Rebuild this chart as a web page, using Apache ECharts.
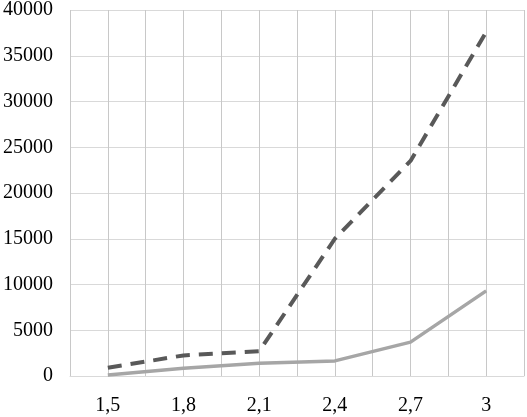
<!DOCTYPE html>
<html>
<head>
<meta charset="utf-8">
<script src="https://cdn.jsdelivr.net/npm/echarts@6/dist/echarts.min.js"></script>
<style>
  html, body { margin: 0; padding: 0; background: #fff; }
  #chart { width: 527px; height: 417px; }
</style>
</head>
<body>
<div id="chart"></div>
<script>
// x positions and the two series
const xValues = [1.5, 1.8, 2.1, 2.4, 2.7, 3]
const dashedValues = [900, 2250, 2700, 15000, 23500, 37600]
const solidValues = [100, 850, 1400, 1650, 3700, 9300]
const xTickLabels = ['1,5', '1,8', '2,1', '2,4', '2,7', '3']

const chart = echarts.init(document.getElementById('chart'))

const pairs = vals => xValues.map((x, i) => [x, vals[i]])
const font = 'Liberation Serif, Times New Roman, serif'

chart.setOption({
  animation: false,
  grid: { left: 69, right: 2, top: 7, bottom: 41 },
  xAxis: {
    type: 'value',
    min: 1.35,
    max: 3.15,
    interval: 0.15,
    axisLine: { show: true, lineStyle: { color: '#d9d9d9', width: 1 } },
    axisTick: { show: false },
    splitLine: { show: true, lineStyle: { color: '#c8c8c8', width: 1 } },
    axisLabel: {
      color: '#000',
      fontFamily: font,
      fontSize: 20,
      margin: 20,
      formatter: v => {
        const idx = xValues.findIndex(x => Math.abs(x - v) < 1e-6)
        return idx >= 0 ? xTickLabels[idx] : ''
      }
    }
  },
  yAxis: {
    type: 'value',
    min: 0,
    max: 40000,
    interval: 5000,
    axisLine: { show: false },
    axisTick: { show: false },
    splitLine: { lineStyle: { color: '#d9d9d9', width: 1 } },
    axisLabel: {
      color: '#000',
      fontFamily: font,
      fontSize: 20,
      margin: 17,
      formatter: v => String(v)
    }
  },
  series: [
    {
      type: 'line',
      data: pairs(dashedValues),
      symbol: 'none',
      lineStyle: { color: '#595959', width: 4, type: [14, 9] }
    },
    {
      type: 'line',
      data: pairs(solidValues),
      symbol: 'none',
      lineStyle: { color: '#a6a6a6', width: 3.5 }
    }
  ]
})
</script>
</body>
</html>
